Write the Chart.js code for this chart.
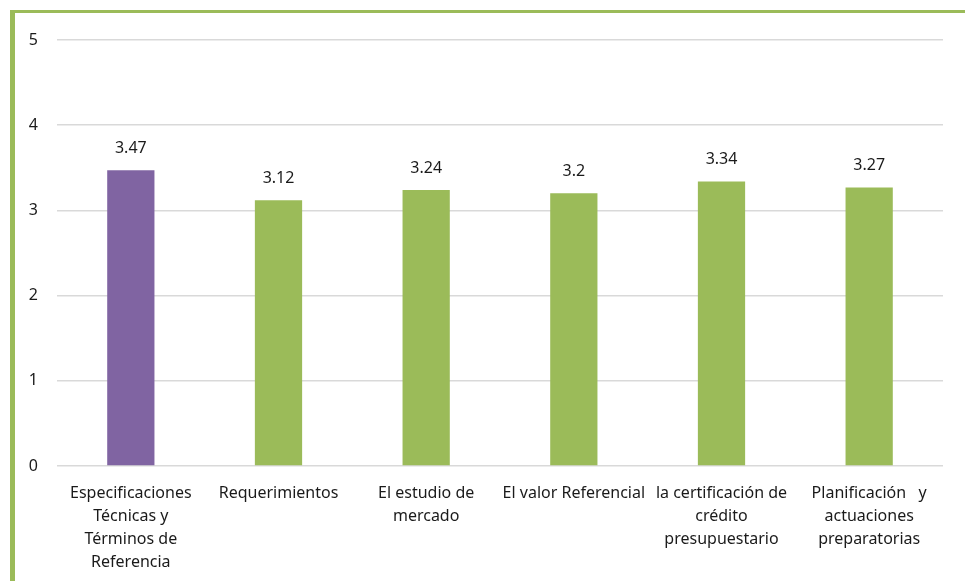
<!DOCTYPE html>
<html>
<head>
<meta charset="utf-8">
<script src="https://cdn.jsdelivr.net/npm/chart.js@4"></script>
<style>
  html, body { margin: 0; padding: 0; background: #fff; }
  #wrap { position: relative; width: 965px; height: 581px; }
</style>
</head>
<body>
<div id="wrap"><canvas id="chart" width="965" height="581"></canvas></div>
<script>
// chart data
const categories = [
  ["Especificaciones", "Técnicas y", "Términos de", "Referencia"],
  ["Requerimientos"],
  ["El estudio de", "mercado"],
  ["El valor Referencial"],
  ["la certificación de", "crédito", "presupuestario"],
  ["Planificación   y", "actuaciones", "preparatorias"]
];
const scores = [3.47, 3.12, 3.24, 3.2, 3.34, 3.27];
const barColors = ["#8064A2", "#9BBB59", "#9BBB59", "#9BBB59", "#9BBB59", "#9BBB59"];
const yTicks = [0, 1, 2, 3, 4, 5];

const FONT = "'Noto Sans', sans-serif";
const TEXT = "#1a1a1a";

// green frame on the left and top
const framePlugin = {
  id: "frame",
  beforeDraw(chart) {
    const ctx = chart.ctx;
    ctx.save();
    ctx.fillStyle = "#9BBB59";
    ctx.fillRect(10, 10, chart.width - 10, 3);
    ctx.fillRect(10, 10, 5, chart.height - 10);
    ctx.restore();
  }
};

// value labels above each bar
const valueLabels = {
  id: "valueLabels",
  afterDatasetsDraw(chart) {
    const ctx = chart.ctx;
    const meta = chart.getDatasetMeta(0);
    ctx.save();
    ctx.font = "16px " + FONT;
    ctx.fillStyle = TEXT;
    ctx.textAlign = "center";
    ctx.textBaseline = "middle";
    meta.data.forEach((bar, i) => {
      ctx.fillText(String(scores[i]), bar.x, bar.y - 22);
    });
    ctx.restore();
  }
};

new Chart(document.getElementById("chart"), {
  type: "bar",
  data: {
    labels: categories,
    datasets: [{
      data: scores,
      backgroundColor: barColors,
      barPercentage: 0.64,
      categoryPercentage: 0.5
    }]
  },
  options: {
    responsive: false,
    animation: false,
    layout: { padding: { left: 0, right: 22, top: 40, bottom: 0 } },
    plugins: {
      legend: { display: false },
      tooltip: { enabled: false }
    },
    scales: {
      x: {
        grid: { display: false, drawTicks: false },
        border: { display: false },
        afterFit(axis) {
          axis.paddingLeft = 0;
          axis.paddingRight = 0;
          axis.height = 115;
        },
        ticks: {
          color: TEXT,
          font: { family: FONT, size: 16, lineHeight: 1.44 },
          maxRotation: 0,
          autoSkip: false,
          padding: 16
        }
      },
      y: {
        min: 0,
        max: 5,
        afterBuildTicks(axis) {
          axis.ticks = yTicks.map(v => ({ value: v }));
        },
        afterFit(axis) {
          axis.width = 57;
        },
        grid: { color: "#D9D9D9", lineWidth: 1.5, drawTicks: false },
        border: { display: false },
        ticks: {
          color: TEXT,
          font: { family: FONT, size: 16 },
          padding: 19
        }
      }
    }
  },
  plugins: [framePlugin, valueLabels]
});
</script>
</body>
</html>
